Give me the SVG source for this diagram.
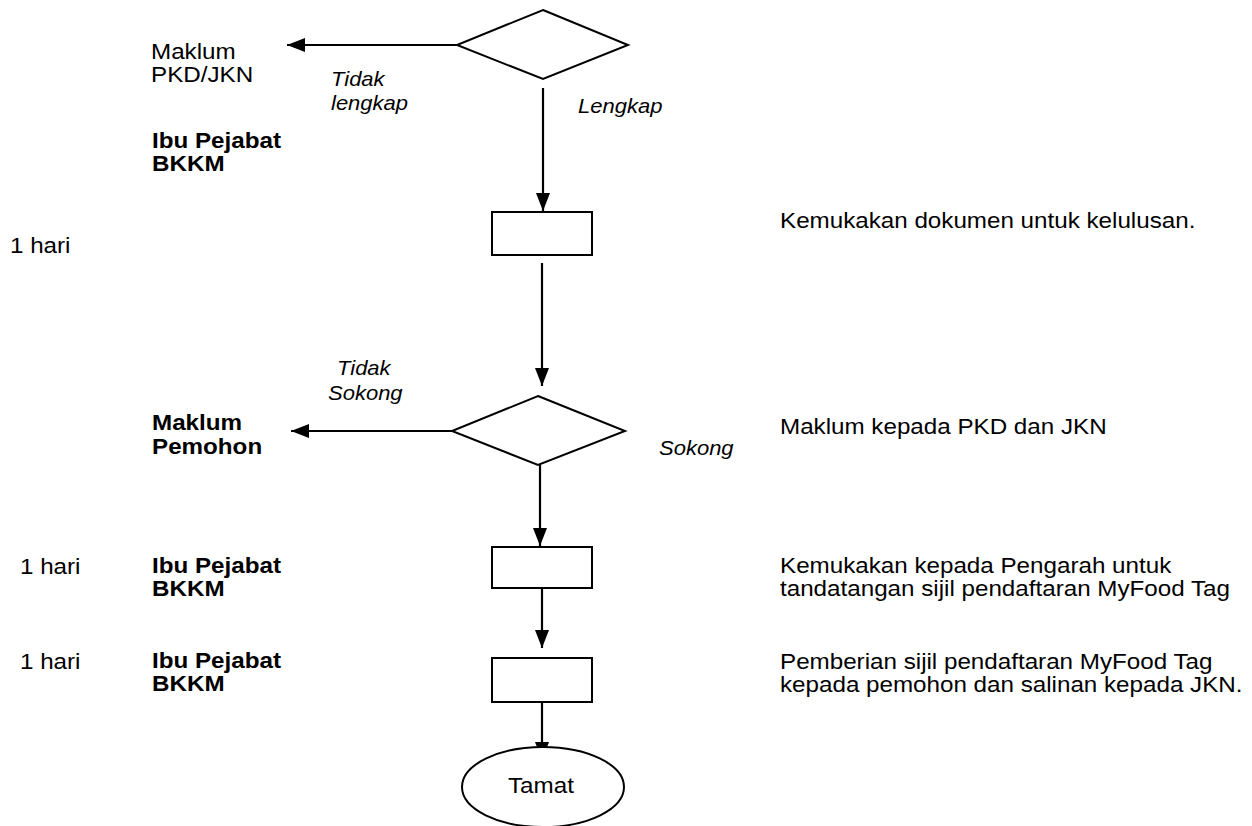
<svg xmlns="http://www.w3.org/2000/svg" width="1252" height="826" viewBox="0 0 1252 826">
<style>
text{font-family:"Liberation Sans",Arial,sans-serif;font-size:22px;fill:#000}
.b{font-weight:bold}
.i{font-style:italic;font-size:20px}
.shape{fill:#fff;stroke:#000;stroke-width:2}
.conn{fill:none;stroke:#000;stroke-width:2.2}
</style>
<defs>
<marker id="ah" markerUnits="userSpaceOnUse" markerWidth="18" markerHeight="14" refX="18" refY="7" orient="auto">
<path d="M0,0 L18,7 L0,14 z" fill="#000"/>
</marker>
</defs>
<rect width="1252" height="826" fill="#fff"/>
<g id="connectors">
<line class="conn" x1="457" y1="45" x2="287" y2="45" marker-end="url(#ah)"/>
<line class="conn" x1="543" y1="88" x2="543" y2="211" marker-end="url(#ah)"/>
<line class="conn" x1="542" y1="263" x2="542" y2="386" marker-end="url(#ah)"/>
<line class="conn" x1="452" y1="431" x2="291" y2="431" marker-end="url(#ah)"/>
<line class="conn" x1="540" y1="465" x2="540" y2="546" marker-end="url(#ah)"/>
<line class="conn" x1="542" y1="588" x2="542" y2="648" marker-end="url(#ah)"/>
<line class="conn" x1="542" y1="702" x2="542" y2="760" marker-end="url(#ah)"/>
</g>
<g id="decision1"><polygon class="shape" points="543,10 628,45 543,79 457,45"/></g>
<g id="process1"><rect class="shape" x="492" y="212" width="100" height="43"/></g>
<g id="decision2"><polygon class="shape" points="538,396 625,431 538,465 452,431"/></g>
<g id="process2"><rect class="shape" x="492" y="547" width="100" height="41"/></g>
<g id="process3"><rect class="shape" x="492" y="658" width="100" height="44"/></g>
<g id="end">
<ellipse class="shape" cx="543" cy="787" rx="81" ry="40"/>
<text transform="translate(508 793) scale(1.1 1)">Tamat</text>
</g>
<g id="labels-left">
<text transform="translate(151 59) scale(1.1 1)">Maklum</text>
<text transform="translate(151 82) scale(1.1 1)">PKD/JKN</text>
<text class="i" transform="translate(331 86) scale(1.1 1)">Tidak</text>
<text class="i" transform="translate(331 110) scale(1.1 1)">lengkap</text>
<text class="i" transform="translate(578 113) scale(1.1 1)">Lengkap</text>
<text class="b" transform="translate(152 148) scale(1.1 1)">Ibu Pejabat</text>
<text class="b" transform="translate(152 171) scale(1.1 1)">BKKM</text>
<text transform="translate(10 253) scale(1.1 1)">1 hari</text>
<text class="i" transform="translate(337 375) scale(1.1 1)">Tidak</text>
<text class="i" transform="translate(328 400) scale(1.1 1)">Sokong</text>
<text class="b" transform="translate(152 430) scale(1.1 1)">Maklum</text>
<text class="b" transform="translate(152 454) scale(1.1 1)">Pemohon</text>
<text class="i" transform="translate(659 455) scale(1.1 1)">Sokong</text>
<text transform="translate(20 574) scale(1.1 1)">1 hari</text>
<text class="b" transform="translate(152 573) scale(1.1 1)">Ibu Pejabat</text>
<text class="b" transform="translate(152 596) scale(1.1 1)">BKKM</text>
<text transform="translate(20 669) scale(1.1 1)">1 hari</text>
<text class="b" transform="translate(152 668) scale(1.1 1)">Ibu Pejabat</text>
<text class="b" transform="translate(152 691) scale(1.1 1)">BKKM</text>
</g>
<g id="labels-right">
<text transform="translate(780 228) scale(1.1 1)">Kemukakan dokumen untuk kelulusan.</text>
<text transform="translate(780 434) scale(1.1 1)">Maklum kepada PKD dan JKN</text>
<text transform="translate(780 573) scale(1.1 1)">Kemukakan kepada Pengarah untuk</text>
<text transform="translate(780 596) scale(1.1 1)">tandatangan sijil pendaftaran MyFood Tag</text>
<text transform="translate(780 669) scale(1.1 1)">Pemberian sijil pendaftaran MyFood Tag</text>
<text transform="translate(780 692) scale(1.1 1)">kepada pemohon dan salinan kepada JKN.</text>
</g>
</svg>
